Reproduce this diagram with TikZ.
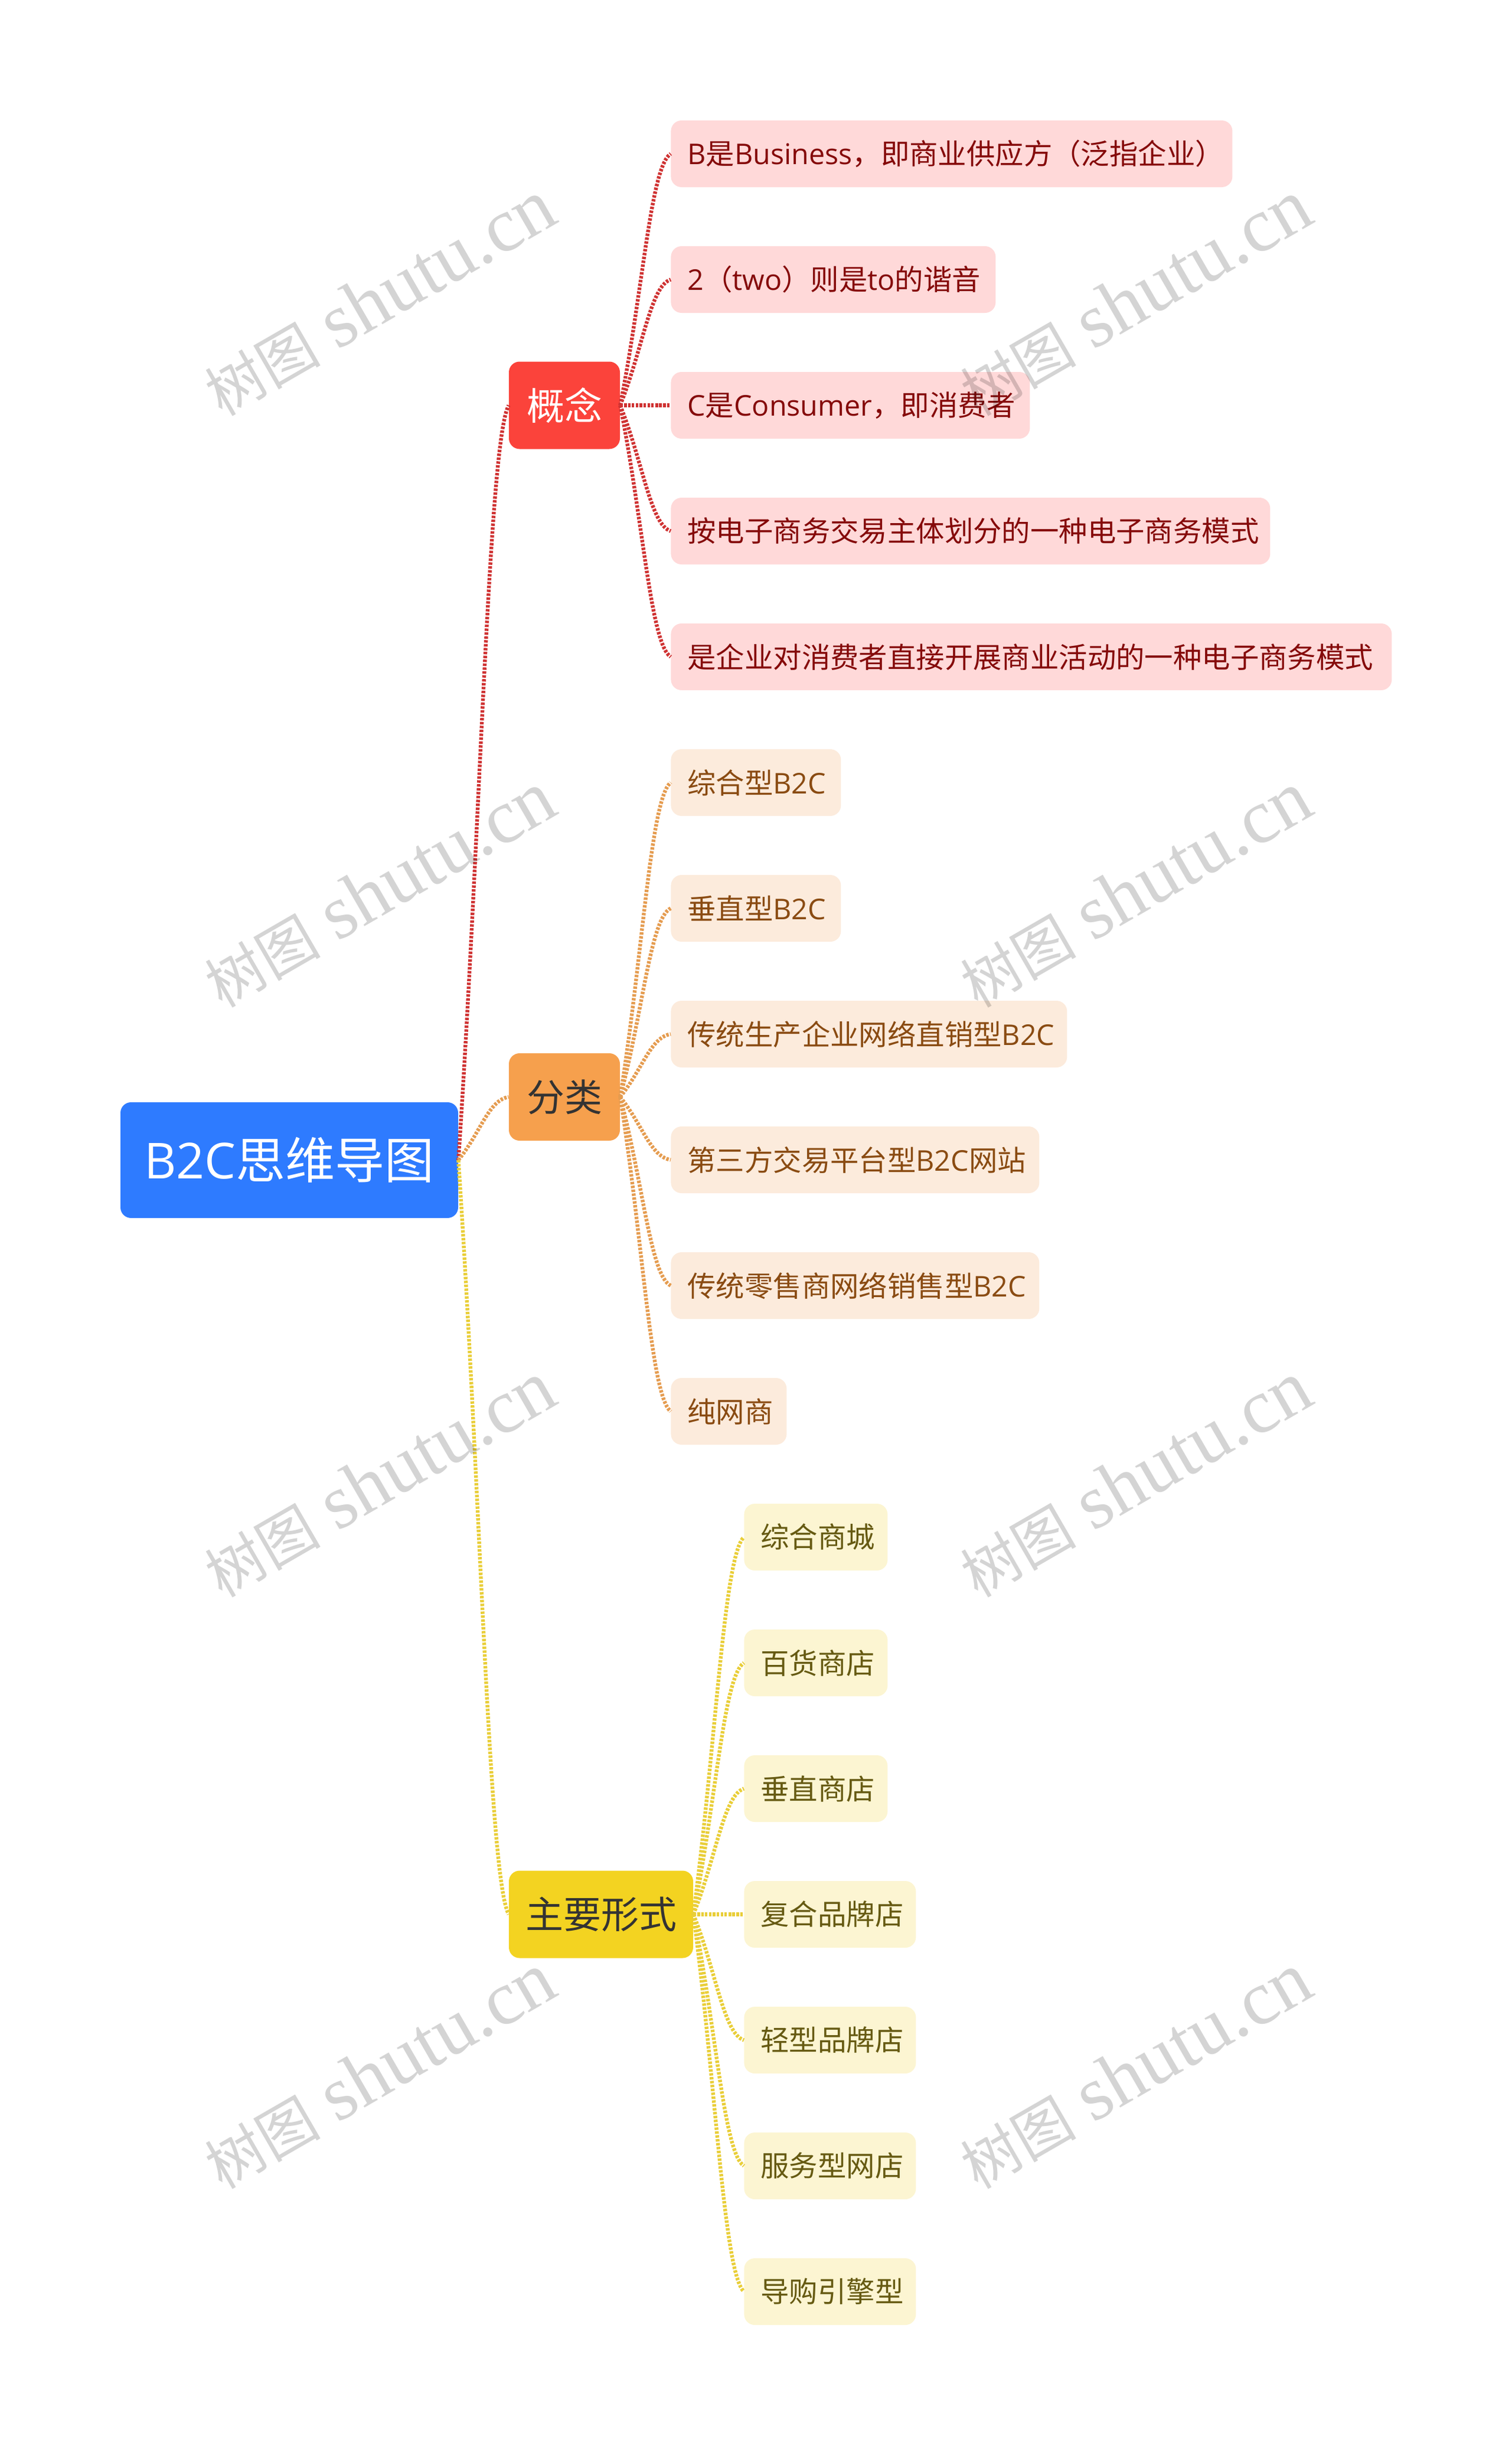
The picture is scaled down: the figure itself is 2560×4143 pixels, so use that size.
\documentclass[tikz,border=0pt]{standalone}
\usepackage{fontspec}
\setmainfont{Noto Sans CJK SC}
\newfontfamily\latinfont{Open Sans}
\newfontfamily\markfont{Liberation Serif}
\usetikzlibrary{calc}
\definecolor{rootblue}{HTML}{2E7BFF}
\definecolor{redbranch}{HTML}{FB433B}
\definecolor{redleaf}{HTML}{FFD9D9}
\definecolor{redtext}{HTML}{850A0A}
\definecolor{redline}{HTML}{CF3232}
\definecolor{orangebranch}{HTML}{F6A04D}
\definecolor{orangeleaf}{HTML}{FCEBDC}
\definecolor{orangetext}{HTML}{8A4B12}
\definecolor{orangeline}{HTML}{E59C50}
\definecolor{yellowbranch}{HTML}{F3D321}
\definecolor{yellowleaf}{HTML}{FCF5D2}
\definecolor{yellowtext}{HTML}{665A12}
\definecolor{yellowline}{HTML}{E9CE38}
\newcommand{\lat}[1]{{\latinfont #1}}
\newcommand{\marktext}{{\fontsize{49}{70}\selectfont 树图} {\markfont shutu.cn}}
\tikzset{
  rootbox/.style={shape=rectangle, rounded corners=9pt, fill=rootblue, text=white, minimum width=286pt, minimum height=98pt, inner sep=0pt, font=\fontsize{42}{50}\selectfont},
  branchbox/.style={shape=rectangle, rounded corners=9pt, minimum height=74pt, inner sep=0pt, font=\fontsize{32}{38}\selectfont},
  leafbox/.style={shape=rectangle, rounded corners=9pt, anchor=west, minimum height=56.5pt, inner sep=0pt, align=left, execute at begin node={\hspace*{14pt}}, font=\fontsize{24.2}{29}\selectfont},
  redleafbox/.style={leafbox, fill=redleaf, text=redtext},
  orangeleafbox/.style={leafbox, fill=orangeleaf, text=orangetext},
  yellowleafbox/.style={leafbox, fill=yellowleaf, text=yellowtext},
  link/.style={line width=3.2pt, dash pattern=on 2.1pt off 1.2pt, to path={let \p1=(\tikztostart), \p2=(\tikztotarget) in .. controls ({\x1+.45*(\x2-\x1)},{\y1+.45*(\y2-\y1)}) and ({\x1+.6*(\x2-\x1)},{\y1+.95*(\y2-\y1)}) .. (\tikztotarget)}},
  markbox/.style={rotate=30, text=black, text opacity=.17, inner sep=0pt, font=\fontsize{65}{70}\selectfont}
}
\begin{document}
\begin{tikzpicture}[x=.5pt, y=-.5pt]
\useasboundingbox (0,0) rectangle (2560,4143);
\node[rootbox] (root) at (490,1965) {\lat{B2C}思维导图};
\node[branchbox, fill=redbranch, text=white, minimum width=94pt] (concept) at (956,686.5) {概念};
\node[branchbox, fill=orangebranch, text=black!80, minimum width=94pt] (kind) at (956,1858) {分类};
\node[branchbox, fill=yellowbranch, text=black!80, minimum width=156pt] (form) at (1018,3242.5) {主要形式};
\node[redleafbox, text width=475.5pt] (c1) at (1136,260.5) {\lat{B}是\lat{Business}，即商业供应方（泛指企业）};
\node[redleafbox, text width=275pt] (c2) at (1136,473.5) {\lat{2}（\lat{two}）则是\lat{to}的谐音};
\node[redleafbox, text width=304pt] (c3) at (1136,686.5) {\lat{C}是\lat{Consumer}，即消费者};
\node[redleafbox, text width=507.5pt] (c4) at (1136,899.5) {按电子商务交易主体划分的一种电子商务模式};
\node[redleafbox, text width=610.5pt] (c5) at (1136,1112.5) {是企业对消费者直接开展商业活动的一种电子商务模式};
\node[orangeleafbox, text width=144pt] (k1) at (1136,1325.5) {综合型\lat{B2C}};
\node[orangeleafbox, text width=144pt] (k2) at (1136,1538.5) {垂直型\lat{B2C}};
\node[orangeleafbox, text width=335.5pt] (k3) at (1136,1751.5) {传统生产企业网络直销型\lat{B2C}};
\node[orangeleafbox, text width=312pt] (k4) at (1136,1964.5) {第三方交易平台型\lat{B2C}网站};
\node[orangeleafbox, text width=312pt] (k5) at (1136,2177.5) {传统零售商网络销售型\lat{B2C}};
\node[orangeleafbox, text width=98pt] (k6) at (1136,2390.5) {纯网商};
\node[yellowleafbox, text width=121.5pt] (f1) at (1260,2603.5) {综合商城};
\node[yellowleafbox, text width=121.5pt] (f2) at (1260,2816.5) {百货商店};
\node[yellowleafbox, text width=121.5pt] (f3) at (1260,3029.5) {垂直商店};
\node[yellowleafbox, text width=145.5pt] (f4) at (1260,3242.5) {复合品牌店};
\node[yellowleafbox, text width=145.5pt] (f5) at (1260,3455.5) {轻型品牌店};
\node[yellowleafbox, text width=145.5pt] (f6) at (1260,3668.5) {服务型网店};
\node[yellowleafbox, text width=145.5pt] (f7) at (1260,3881.5) {导购引擎型};
\path [link, draw=redline] (root.east) edge (concept.west);
\path [link, draw=orangeline] (root.east) edge (kind.west);
\path [link, draw=yellowline] (root.east) edge (form.west);
\path [link, draw=redline] (concept.east) edge (c1.west);
\path [link, draw=redline] (concept.east) edge (c2.west);
\path [link, draw=redline] (concept.east) edge (c3.west);
\path [link, draw=redline] (concept.east) edge (c4.west);
\path [link, draw=redline] (concept.east) edge (c5.west);
\path [link, draw=orangeline] (kind.east) edge (k1.west);
\path [link, draw=orangeline] (kind.east) edge (k2.west);
\path [link, draw=orangeline] (kind.east) edge (k3.west);
\path [link, draw=orangeline] (kind.east) edge (k4.west);
\path [link, draw=orangeline] (kind.east) edge (k5.west);
\path [link, draw=orangeline] (kind.east) edge (k6.west);
\path [link, draw=yellowline] (form.east) edge (f1.west);
\path [link, draw=yellowline] (form.east) edge (f2.west);
\path [link, draw=yellowline] (form.east) edge (f3.west);
\path [link, draw=yellowline] (form.east) edge (f4.west);
\path [link, draw=yellowline] (form.east) edge (f5.west);
\path [link, draw=yellowline] (form.east) edge (f6.west);
\path [link, draw=yellowline] (form.east) edge (f7.west);
% watermark
\node[markbox] (m1) at (643,505) {\marktext};
\node[markbox] (m2) at (1923,505) {\marktext};
\node[markbox] (m3) at (643,1507) {\marktext};
\node[markbox] (m4) at (1923,1507) {\marktext};
\node[markbox] (m5) at (643,2506) {\marktext};
\node[markbox] (m6) at (1923,2506) {\marktext};
\node[markbox] (m7) at (643,3508) {\marktext};
\node[markbox] (m8) at (1923,3508) {\marktext};
\end{tikzpicture}
\end{document}
